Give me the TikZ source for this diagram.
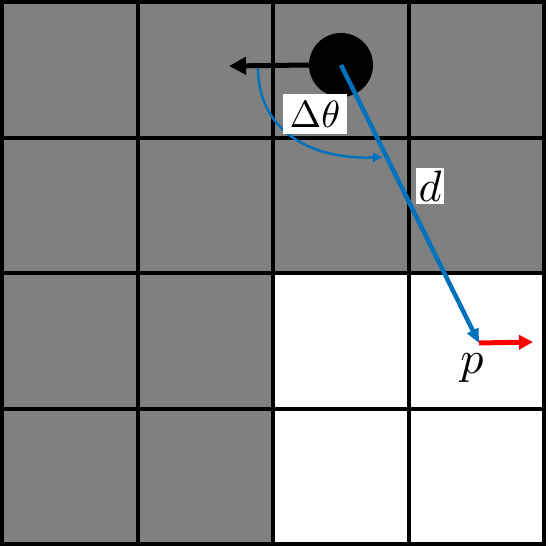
\documentclass[tikz,border=0pt]{standalone}
\usepackage{xcolor}
\usepackage{graphicx}
\usepackage{tikz}
\usetikzlibrary{arrows.meta, positioning}
\definecolor{cellgray}{RGB}{128,128,128}
\definecolor{lineblue}{RGB}{0,114,189}

\begin{document}
\begin{tikzpicture}[x=1pt, y=-1pt,
  gridline/.style={line width=4pt},
  lbl/.style={fill=white, inner sep=3pt},
  robotdot/.style={circle, fill=black, minimum size=64pt, inner sep=0pt},
]
  \useasboundingbox (0,0) rectangle (549,546);

  % occupied and free cells
  \fill[cellgray] (2,2) rectangle (544,544);
  \fill[white] (273,273) rectangle (544,544);
  \foreach \v in {137.5,273,408.5} {
    \draw[gridline] (\v,2) -- (\v,544);
    \draw[gridline] (2,\v) -- (544,\v);
  }
  \draw[gridline] (2,2) rectangle (544,544);

  \node[robotdot] (robot) at (341,65) {};
  \coordinate (heading) at (229,66);
  \coordinate (p) at (479,343);
  \coordinate (pdir) at (533,342);
  \coordinate (arcstart) at (258,68);
  \coordinate (arcend) at (383,157);

  \draw[line width=5pt, -{Triangle[length=17pt,width=17pt]}] (robot.west) -- (heading);
  \draw[lineblue, line width=2.5pt, -{Triangle[length=10pt,width=9pt]}]
    (arcstart) .. controls (258,130) and (310,160) .. (arcend);
  \draw[red, line width=5pt, -{Triangle[length=14pt,width=14pt]}] (p) -- (pdir);
  \draw[lineblue, line width=4.5pt, -{Triangle[length=14pt,width=12pt]}] (robot.center) -- (p);

  \node[lbl, inner sep=7pt] (dtheta) at (315,114) {\scalebox{3.8}{$\Delta\theta$}};
  \node[lbl] (dlabel) at (430,186) {\scalebox{4.4}{$d$}};
  \node (plabel) at (472,368) {\scalebox{4.6}{$p$}};
\end{tikzpicture}
\end{document}
